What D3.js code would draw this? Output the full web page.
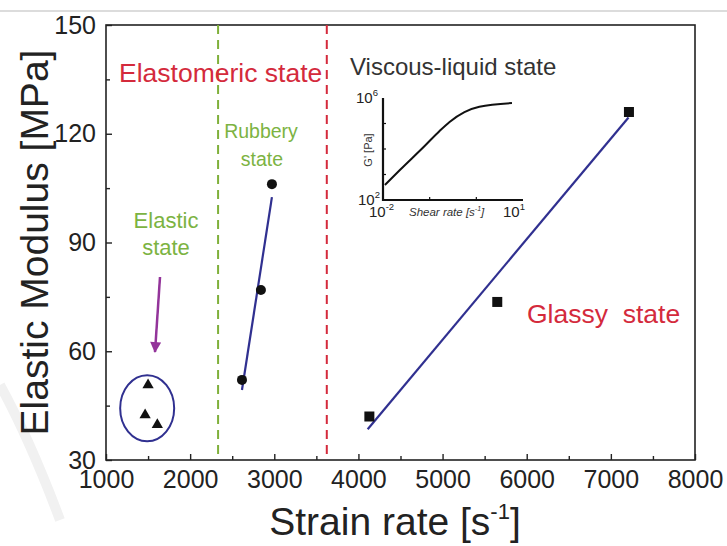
<!DOCTYPE html>
<html><head><meta charset="utf-8">
<script src="https://cdn.jsdelivr.net/npm/d3@7"></script>
<style>body{margin:0;background:#fff}svg{display:block}text{font-family:"Liberation Sans",Arial,sans-serif}</style>
</head><body>
<svg id="c" width="727" height="546"></svg>
<script>
// ---- data ----
const xTicks = [1000,2000,3000,4000,5000,6000,7000,8000];
const yTicks = [30,60,90,120,150];
const elasticX = [1500,1465,1610];
const elasticY = [50.7,42.4,39.7];
const rubberyX = [2616,2841,2972];
const rubberyY = [52.1,76.9,106.1];
const rubberyFitX = [2616,2972];
const rubberyFitY = [49.3,102.5];
const glassyX = [4130,5650,7215];
const glassyY = [42.0,73.6,126.0];
const glassyFitX = [4110,7210];
const glassyFitY = [38.5,124.5];
const boundaryGreen = 2332;
const boundaryRed = 3624;
const insetShear = [0.011,0.023,0.078,0.163,0.267,0.556,1.16,5.8];
const insetG = [390,1500,13100,50800,115000,280000,450000,630000];

const svg = d3.select("#c");
const m = {l:106,r:695,t:25,b:460};
const x = d3.scaleLinear().domain([1000,8000]).range([m.l,m.r]);
const y = d3.scaleLinear().domain([30,150]).range([m.b,m.t]);

// faint background marks
svg.append("path").attr("d","M0,385 Q30,440 60,520").attr("fill","none").attr("stroke","#f1f1f1").attr("stroke-width",10);
svg.append("line").attr("x1",0).attr("x2",727).attr("y1",11).attr("y2",11).attr("stroke","#d0d0d0").attr("stroke-width",1.5);

// frame
svg.append("rect").attr("x",m.l).attr("y",m.t).attr("width",m.r-m.l).attr("height",m.b-m.t)
  .attr("fill","none").attr("stroke","#222").attr("stroke-width",1.6);

// axes
const minorX = d3.range(1500,8000,1000);
const minorY = [45,75,105,135];
const gx = svg.append("g").attr("transform",`translate(0,${m.b})`);
gx.call(d3.axisBottom(x).tickValues(xTicks).tickSize(-6).tickPadding(9).tickFormat(d3.format("d")));
const gxm = svg.append("g").attr("transform",`translate(0,${m.b})`);
gxm.call(d3.axisBottom(x).tickValues(minorX).tickSize(-4).tickFormat(""));
const gy = svg.append("g").attr("transform",`translate(${m.l},0)`);
gy.call(d3.axisLeft(y).tickValues(yTicks).tickSize(-6).tickPadding(10));
const gym = svg.append("g").attr("transform",`translate(${m.l},0)`);
gym.call(d3.axisLeft(y).tickValues(minorY).tickSize(-4).tickFormat(""));
svg.selectAll(".domain").remove();
svg.selectAll(".tick line").attr("stroke","#222").attr("stroke-width",1.4);
svg.selectAll(".tick text").attr("font-size",25).attr("fill","#222").attr("font-family","Liberation Sans, Arial, sans-serif");
gx.selectAll(".tick text").attr("dy","0.75em");

// axis titles
const xt = svg.append("text").attr("x",395).attr("y",535).attr("text-anchor","middle").attr("font-size",39).attr("fill","#222");
xt.append("tspan").text("Strain rate [s");
xt.append("tspan").text("-1").attr("font-size",22).attr("dy",-16);
xt.append("tspan").text("]").attr("dy",16);
svg.append("text").attr("transform",`translate(48,${(m.t+m.b)/2}) rotate(-90)`).attr("text-anchor","middle")
  .attr("font-size",39).attr("fill","#222").text("Elastic Modulus [MPa]");

// boundaries
svg.append("line").attr("x1",x(boundaryGreen)).attr("x2",x(boundaryGreen)).attr("y1",m.t).attr("y2",m.b)
  .attr("stroke","#7fb03a").attr("stroke-width",2).attr("stroke-dasharray","9,6");
svg.append("line").attr("x1",x(boundaryRed)).attr("x2",x(boundaryRed)).attr("y1",m.t).attr("y2",m.b)
  .attr("stroke","#d42a3c").attr("stroke-width",2).attr("stroke-dasharray","9,6");

const navy = "#303090";
// fits
const line = d3.line().x(d=>x(d[0])).y(d=>y(d[1]));
svg.append("path").attr("d",line(d3.zip(rubberyFitX,rubberyFitY))).attr("stroke",navy).attr("stroke-width",2.2).attr("fill","none");
svg.append("path").attr("d",line(d3.zip(glassyFitX,glassyFitY))).attr("stroke",navy).attr("stroke-width",2.2).attr("fill","none");

// markers
svg.selectAll(".tri").data(d3.zip(elasticX,elasticY)).join("path")
  .attr("d",d3.symbol(d3.symbolTriangle,55)).attr("transform",d=>`translate(${x(d[0])},${y(d[1])})`).attr("fill","#111");
svg.selectAll(".cir").data(d3.zip(rubberyX,rubberyY)).join("circle")
  .attr("cx",d=>x(d[0])).attr("cy",d=>y(d[1])).attr("r",5).attr("fill","#111");
svg.selectAll(".sq").data(d3.zip(glassyX,glassyY)).join("rect")
  .attr("x",d=>x(d[0])-5).attr("y",d=>y(d[1])-5).attr("width",10).attr("height",10).attr("fill","#111");

// ellipse around elastic points
svg.append("ellipse").attr("cx",x(d3.mean(elasticX))-3).attr("cy",y(d3.mean(elasticY))).attr("rx",27).attr("ry",33)
  .attr("fill","none").attr("stroke",navy).attr("stroke-width",2);

// arrow
const defs = svg.append("defs");
defs.append("marker").attr("id","ah").attr("viewBox","0 0 10 10").attr("refX",9).attr("refY",5)
  .attr("markerWidth",14).attr("markerHeight",11).attr("orient","auto").attr("markerUnits","userSpaceOnUse")
  .append("path").attr("d","M0,0 L10,5 L0,10 z").attr("fill","#93349a");
svg.append("line").attr("x1",160).attr("y1",277).attr("x2",155).attr("y2",352)
  .attr("stroke","#93349a").attr("stroke-width",2.5).attr("marker-end","url(#ah)");

// state labels
const green = "#7cb342", red = "#d42a3c";
svg.append("text").attr("x",119).attr("y",82).attr("font-size",26.5).attr("fill",red).text("Elastomeric state");
svg.append("text").attr("x",527).attr("y",323).attr("font-size",26.5).attr("fill",red).attr("xml:space","preserve").text("Glassy  state");
const rub = svg.append("text").attr("text-anchor","middle").attr("font-size",19.5).attr("fill",green);
rub.append("tspan").attr("x",261).attr("y",138).text("Rubbery");
rub.append("tspan").attr("x",262).attr("y",166).text("state");
const ela = svg.append("text").attr("text-anchor","middle").attr("font-size",22).attr("fill",green);
ela.append("tspan").attr("x",166).attr("y",228).text("Elastic");
ela.append("tspan").attr("x",166).attr("y",255).text("state");
svg.append("text").attr("x",350).attr("y",75).attr("font-size",24).attr("fill","#333").text("Viscous-liquid state");

// inset
const ix = d3.scaleLog().domain([0.01,10]).range([383,523]);
const iy = d3.scaleLog().domain([100,1e6]).range([200,98]);
const ig = svg.append("g");
ig.append("path").attr("d",`M${ix(0.01)},${iy(1e6)}V${iy(100)}H${ix(10)}`).attr("fill","none").attr("stroke","#111").attr("stroke-width",2.2);
[0.1,1].forEach(v=>ig.append("line").attr("x1",ix(v)).attr("x2",ix(v)).attr("y1",200).attr("y2",197).attr("stroke","#111").attr("stroke-width",1.2));
[1e3,1e4,1e5].forEach(v=>ig.append("line").attr("x1",383).attr("x2",386).attr("y1",iy(v)).attr("y2",iy(v)).attr("stroke","#111").attr("stroke-width",1.2));
ig.append("path").attr("d",d3.line().x(d=>ix(d[0])).y(d=>iy(d[1])).curve(d3.curveMonotoneX)(d3.zip(insetShear,insetG)))
  .attr("fill","none").attr("stroke","#111").attr("stroke-width",2);
function pow(g,xp,yp,base,exp){
  const t=g.append("text").attr("x",xp).attr("y",yp).attr("font-size",15).attr("fill","#222");
  t.append("tspan").text(base);
  t.append("tspan").text(exp).attr("font-size",9.5).attr("dy",-7);
}
pow(ig,356,103,"10","6");
pow(ig,358,205,"10","2");
pow(ig,369,217,"10","-2");
pow(ig,503,217,"10","1");
ig.append("text").attr("transform","translate(372,150) rotate(-90)").attr("text-anchor","middle").attr("font-size",11).attr("fill","#333").text("G' [Pa]");
const sr = ig.append("text").attr("x",409).attr("y",216).attr("font-size",11.5).attr("fill","#333").attr("font-family","Liberation Serif, Times New Roman, serif").attr("font-style","italic");
sr.append("tspan").text("Shear rate [s");
sr.append("tspan").text("-1").attr("font-size",7).attr("dy",-5);
sr.append("tspan").text("]").attr("dy",5);
</script>
</body></html>
